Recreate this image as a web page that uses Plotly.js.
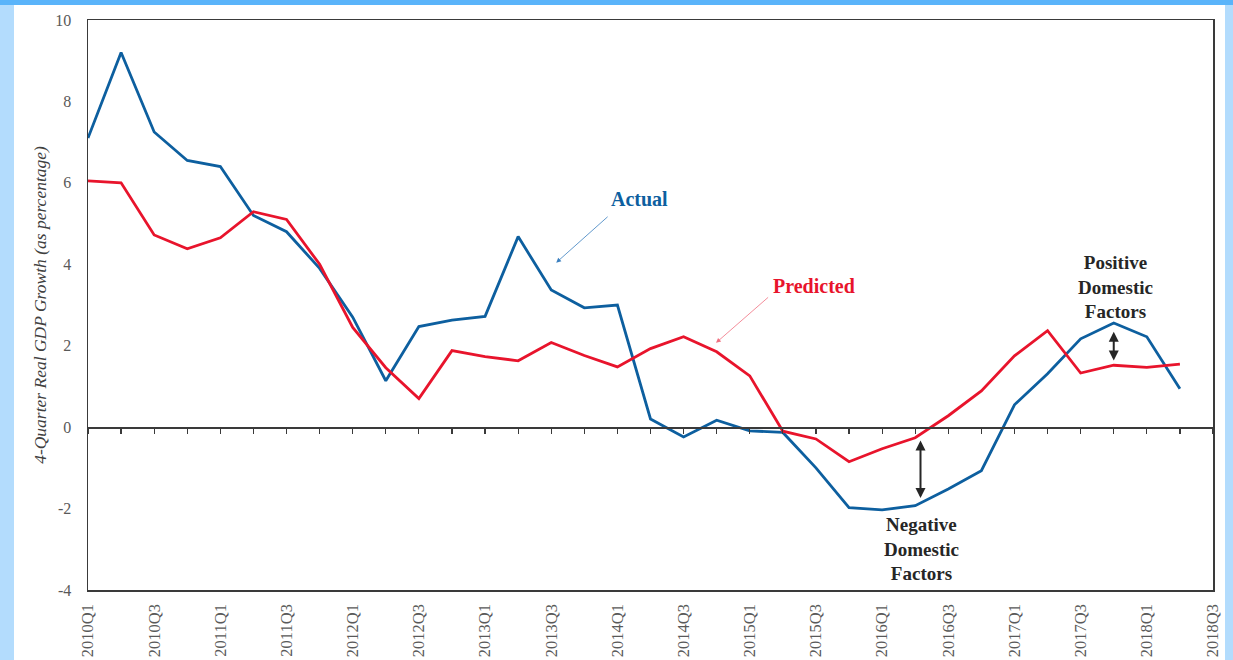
<!DOCTYPE html>
<html>
<head>
<meta charset="utf-8">
<script src="https://cdn.plot.ly/plotly-3.0.1.min.js"></script>
<style>
html,body{margin:0;padding:0;}
#wrap{position:relative;width:1233px;height:660px;background:#b3dcfd;overflow:hidden;}
#topbar{position:absolute;left:0;top:0;width:1233px;height:5px;background:#5ab4fa;}
#inner{position:absolute;left:14px;top:5px;width:1211px;height:655px;background:#ffffff;}
#chart{position:absolute;left:0;top:0;width:1233px;height:660px;}
</style>
</head>
<body>
<div id="wrap"><div id="topbar"></div><div id="inner"></div><div id="chart"></div></div>
<script>
const quarters = ["2010Q1","2010Q2","2010Q3","2010Q4","2011Q1","2011Q2","2011Q3","2011Q4",
  "2012Q1","2012Q2","2012Q3","2012Q4","2013Q1","2013Q2","2013Q3","2013Q4",
  "2014Q1","2014Q2","2014Q3","2014Q4","2015Q1","2015Q2","2015Q3","2015Q4",
  "2016Q1","2016Q2","2016Q3","2016Q4","2017Q1","2017Q2","2017Q3","2017Q4",
  "2018Q1","2018Q2","2018Q3"];
const actual = [7.1, 9.2, 7.25, 6.55, 6.4, 5.2, 4.8, 3.9, 2.7, 1.14, 2.47, 2.63, 2.72, 4.68, 3.37, 2.93,
  3.0, 0.2, -0.24, 0.17, -0.09, -0.13, -1.0, -1.98, -2.03, -1.93, -1.52, -1.07, 0.55, 1.31, 2.17, 2.56,
  2.22, 0.94];
const predicted = [6.05, 6.0, 4.72, 4.38, 4.65, 5.29, 5.1, 4.0, 2.45, 1.46, 0.7, 1.88, 1.73, 1.63, 2.08, 1.76,
  1.48, 1.93, 2.22, 1.85, 1.26, -0.1, -0.29, -0.85, -0.53, -0.26, 0.28, 0.89, 1.75, 2.37, 1.33, 1.52,
  1.47, 1.55];
const yTicks = [-4, -2, 0, 2, 4, 6, 8, 10];
const yTitle = "4-Quarter Real GDP Growth (as percentage)";

const xs = actual.map((v, i) => quarters.indexOf(quarters[i]));
const tickIdx = quarters.map((q, i) => i).filter(i => i % 2 === 0);
const tickLab = tickIdx.map(i => quarters[i]);
const allIdx = quarters.map((q, i) => i);

const blue = "#0d5f9f";
const red = "#e8142c";
const serif = "Liberation Serif, DejaVu Serif, serif";

const traces = [
  {x: xs, y: actual, type: "scatter", mode: "lines", name: "Actual",
   line: {color: blue, width: 2.8}, hoverinfo: "skip"},
  {x: xs, y: predicted, type: "scatter", mode: "lines", name: "Predicted",
   line: {color: red, width: 2.8}, hoverinfo: "skip"},
  {x: xs, y: actual, type: "scatter", mode: "none", xaxis: "x2", hoverinfo: "skip", showlegend: false}
];

const dark = "#262626";
const layout = {
  width: 1233, height: 660,
  margin: {l: 88, r: 20, t: 20, b: 70},
  paper_bgcolor: "rgba(0,0,0,0)",
  plot_bgcolor: "rgba(0,0,0,0)",
  showlegend: false,
  xaxis: {
    range: [0, quarters.length - 1], tickmode: "array", tickvals: tickIdx, ticktext: tickLab,
    tickangle: -90, ticks: "", showgrid: false, zeroline: false,
    showline: true, mirror: true, linecolor: "#3a3a3a", linewidth: 1.5,
    tickfont: {family: serif, size: 16.5, color: "#595959"}, ticklabelstandoff: 6
  },
  xaxis2: {
    overlaying: "x", anchor: "free", position: 4/14, range: [0, quarters.length - 1],
    tickmode: "array", tickvals: allIdx, ticks: "outside", ticklen: 5, tickwidth: 1.2,
    tickcolor: "#3a3a3a", showticklabels: false, showgrid: false, zeroline: false,
    showline: true, linecolor: "#3a3a3a", linewidth: 1.5
  },
  yaxis: {
    range: [-4, 10], tickmode: "array", tickvals: yTicks, ticktext: yTicks.map(v => String(v)),
    showgrid: false, zeroline: false,
    showline: true, mirror: true, linecolor: "#3a3a3a", linewidth: 1.5, ticks: "",
    tickfont: {family: serif, size: 16, color: "#595959"}, ticklabelstandoff: 12,
    title: {text: yTitle, font: {family: serif, size: 17.5, color: "#404040", style: "italic"}, standoff: 4}
  },
  annotations: [
    {x: 16.68, y: 5.6, xref: "x", yref: "y", text: "<b>Actual</b>", showarrow: false,
     font: {family: serif, size: 20, color: blue}},
    {x: 14.15, y: 4.04, ax: 15.75, ay: 5.2, xref: "x", yref: "y", axref: "x", ayref: "y",
     text: "", showarrow: true, arrowhead: 2, arrowsize: 1.2, arrowwidth: 0.8, arrowcolor: "#3a7fbf"},
    {x: 21.95, y: 3.47, xref: "x", yref: "y", text: "<b>Predicted</b>", showarrow: false,
     font: {family: serif, size: 20, color: red}},
    {x: 18.98, y: 2.07, ax: 20.6, ay: 3.22, xref: "x", yref: "y", axref: "x", ayref: "y",
     text: "", showarrow: true, arrowhead: 2, arrowsize: 1.2, arrowwidth: 0.8, arrowcolor: "#f07080"},
    {x: 25.16, y: -0.33, ax: 25.16, ay: -1.78, xref: "x", yref: "y", axref: "x", ayref: "y",
     text: "", showarrow: true, arrowhead: 2, startarrowhead: 2, arrowside: "end+start",
     arrowsize: 1, arrowwidth: 2, arrowcolor: dark},
    {x: 25.2, y: -3.0, xref: "x", yref: "y", text: "<b>Negative<br>Domestic<br>Factors</b>", showarrow: false,
     font: {family: serif, size: 19, color: dark}, align: "center"},
    {x: 31.0, y: 2.34, ax: 31.0, ay: 1.6, xref: "x", yref: "y", axref: "x", ayref: "y",
     text: "", showarrow: true, arrowhead: 2, startarrowhead: 2, arrowside: "end+start",
     arrowsize: 1, arrowwidth: 2, arrowcolor: dark},
    {x: 31.05, y: 3.45, xref: "x", yref: "y", text: "<b>Positive<br>Domestic<br>Factors</b>", showarrow: false,
     font: {family: serif, size: 19, color: dark}, align: "center"}
  ]
};

Plotly.newPlot("chart", traces, layout, {displayModeBar: false, staticPlot: true});
</script>
</body>
</html>
